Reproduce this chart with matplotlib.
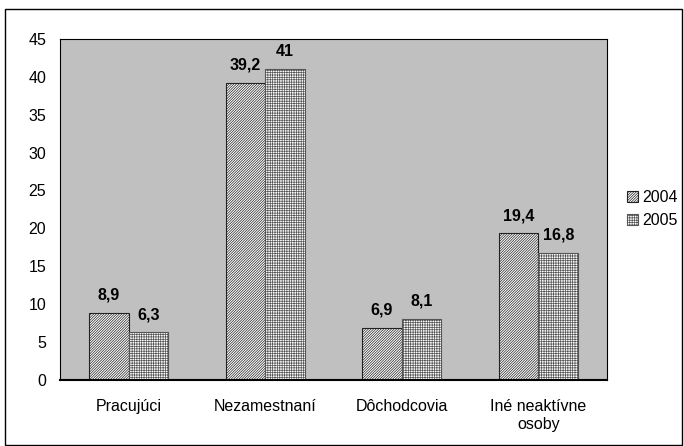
import matplotlib.pyplot as plt
import matplotlib.patches as mpatches
import numpy as np

plt.rcParams['font.family'] = ['Liberation Sans', 'DejaVu Sans']
plt.rcParams['hatch.linewidth'] = 0.5

categories = ['Pracujúci', 'Nezamestnaní', 'Dôchodcovia', 'Iné neaktívne\nosoby']
years = ['2004', '2005']
values_2004 = [8.9, 39.2, 6.9, 19.4]
values_2005 = [6.3, 41, 8.1, 16.8]
labels_2004 = ['8,9', '39,2', '6,9', '19,4']
labels_2005 = ['6,3', '41', '8,1', '16,8']

fig = plt.figure(figsize=(6.84, 4.46), dpi=100)
ax = fig.add_axes([0.088, 0.148, 0.799, 0.765])
ax.set_facecolor('#c0c0c0')

x = np.arange(len(categories))
w = 0.29
b1 = ax.bar(x - w / 2, values_2004, w, color='white', edgecolor='#222222',
            hatch='/' * 13, linewidth=0.8, label=years[0])
b2 = ax.bar(x + w / 2, values_2005, w, color='white', edgecolor='#555555',
            hatch='+' * 7, linewidth=0.8, label=years[1])

for bars, labs in [(b1, labels_2004), (b2, labels_2005)]:
    for bar, lab in zip(bars, labs):
        ax.text(bar.get_x() + bar.get_width() / 2, bar.get_height() + 1.3, lab,
                ha='center', va='bottom', fontsize=11.5, fontweight='bold')

ax.set_xlim(-0.5, 3.5)
ax.set_ylim(0, 45)
ax.set_yticks(range(0, 46, 5))
ax.set_xticks(x)
ax.set_xticklabels(categories, fontsize=11.5)
ax.tick_params(axis='y', length=0, labelsize=11.5, pad=10)
ax.tick_params(axis='x', length=0, pad=14)
for s in ['top', 'right', 'left']:
    ax.spines[s].set_linewidth(0.8)
ax.spines['bottom'].set_linewidth(1.5)

ax.legend(loc='center left', bbox_to_anchor=(1.01, 0.5), frameon=False,
          fontsize=11.5, handlelength=0.7, handleheight=0.7, handletextpad=0.3,
          labelspacing=0.5)

fig.patches.append(mpatches.Rectangle((0.007, 0.003), 0.99, 0.976, transform=fig.transFigure,
                                      fill=False, edgecolor='black', linewidth=1))

plt.savefig('out.png', dpi=100)
